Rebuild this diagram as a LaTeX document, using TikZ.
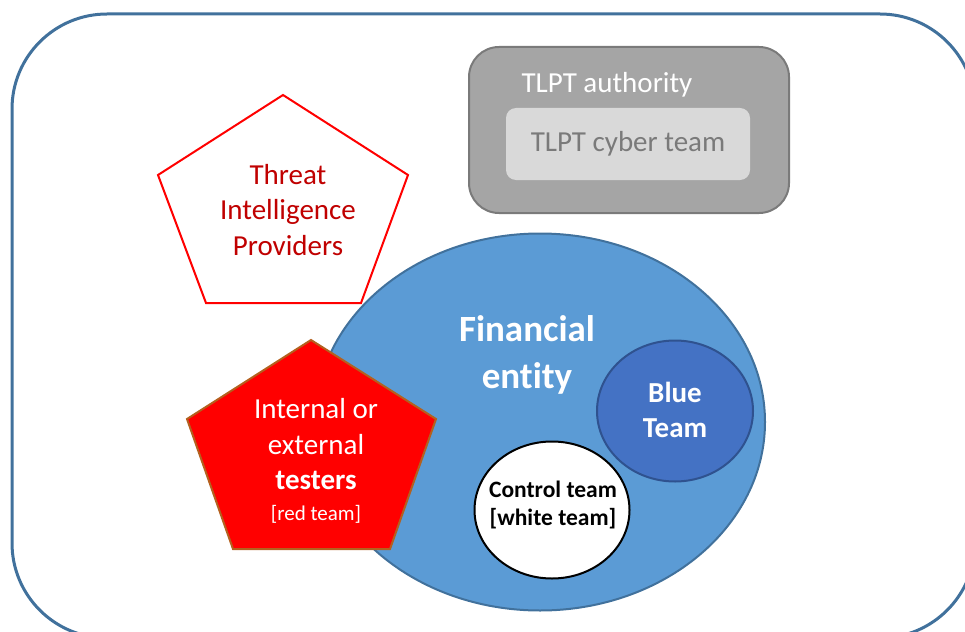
\documentclass[tikz,border=0pt]{standalone}
\usepackage{fontspec}
\setmainfont{Carlito}[Ligatures=NoCommon]
\usetikzlibrary{shapes.geometric}
\definecolor{frameblue}{HTML}{41719C}
\definecolor{entblue}{HTML}{5B9BD5}
\definecolor{teamblue}{HTML}{4472C4}
\definecolor{teamborder}{HTML}{2F528F}
\definecolor{authgray}{HTML}{A5A5A5}
\definecolor{authborder}{HTML}{7A7A7A}
\definecolor{cybergray}{HTML}{D9D9D9}
\definecolor{darkred}{HTML}{C00000}
\definecolor{redborder}{HTML}{B4601E}
\tikzset{
  txt/.style={inner sep=0pt, align=center, font=\fontsize{29}{35.5}\selectfont},
  team/.style={ellipse, draw, line width=2pt, inner sep=0pt}
}

\begin{document}
\begin{tikzpicture}[x=1pt,y=-1pt]
        \useasboundingbox (0,0) rectangle (965,631);
        \begin{scope}
            \clip (0,0) rectangle (965,631);
            \draw[frameblue, line width=3pt, rounded corners=95pt] (12,14) rectangle (975,638);
        \end{scope}

        % authority
        \node[draw=authborder, fill=authgray, line width=2pt, rounded corners=30pt,
              minimum width=320pt, minimum height=166pt] (auth) at (629,130) {};
        \node[txt, white] (authtxt) at (607,85) {TLPT authority};
        \node[txt, fill=cybergray, text=authborder, rounded corners=10pt,
              minimum width=244pt, minimum height=72pt] (cyber) at (628,144) {TLPT cyber team};

        % threat intelligence
        \draw[red, line width=2pt, fill=white] (283,95) -- (408,175) -- (361,303) -- (206,303) -- (158,175) -- cycle;
        \node[txt, darkred] (ti) at (288,210) {Threat\\Intelligence\\Providers};

        % financial entity
        \node[team, draw=frameblue, fill=entblue, minimum width=450pt, minimum height=377pt] (ent) at (540,422) {};
        \node[txt, white, font=\fontsize{37}{47}\selectfont\bfseries] (enttxt) at (527,355) {Financial\\entity};
        \node[team, draw=teamborder, fill=teamblue, minimum width=156pt, minimum height=141pt] (blue) at (675,411) {};
        \node[txt, white, font=\fontsize{29}{35}\selectfont\bfseries] (bluetxt) at (675,410) {Blue\\Team};
        \node[team, draw=black, fill=white, minimum width=155pt, minimum height=137pt] (white) at (552,510) {};
        \node[txt, font=\fontsize{23.5}{28}\selectfont\bfseries] (whitetxt) at (553,505) {Control team\\{}[white team]};

        % red team
        \draw[redborder, line width=2pt, fill=red] (311,340) -- (436,419) -- (390,549) -- (233,549) -- (187,419) -- cycle;
        \node[txt, white] (rt) at (316,461) {Internal or\\external\\\textbf{testers}\\[-5pt]{\fontsize{21}{26}\selectfont [red team]}};
\end{tikzpicture}
\end{document}
